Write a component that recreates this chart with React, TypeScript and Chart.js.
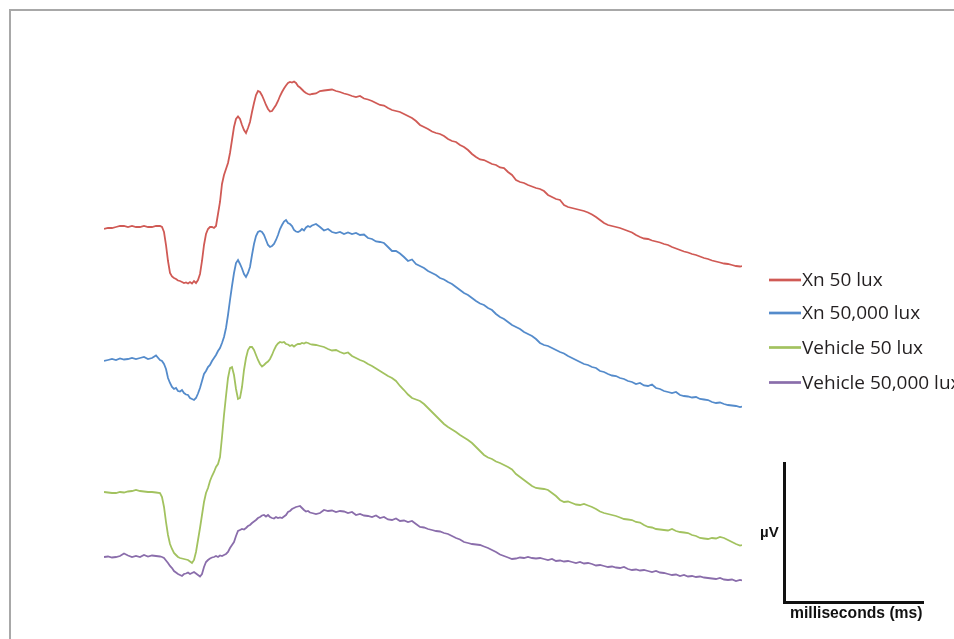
import React, { useEffect, useRef } from "react";
import { Chart, registerables } from "chart.js";

Chart.register(...registerables);

// Sampling grid in milliseconds (denser around the a-/b-wave)
const timeMs: number[] = [];
for (let i = 0; i <= 14; i++) timeMs.push(i);
for (let k = 29; k <= 104; k++) timeMs.push(k / 2);
for (let i = 53; i <= 159; i++) timeMs.push(i);
timeMs.push(159.5);

const seriesLabels = ["Xn 50 lux", "Xn 50,000 lux", "Vehicle 50 lux", "Vehicle 50,000 lux"];
const seriesColors = ["#D05A55", "#548BCB", "#A2C25F", "#8A6DAB"];

// Traces (µV, vertically offset for display)
const xn50: number[] = [
  371, 372, 372, 373, 374, 374, 373, 374, 373, 373, 374, 373, 373, 374, 374,
  373, 368, 355, 339, 327, 323.5, 322, 321, 319.5, 319, 318, 317, 317.5, 316.5, 318, 316.5, 319, 317, 320, 326,
  339, 355, 366, 371, 373, 373, 372, 374, 386, 398, 416, 425, 431, 437, 447, 460, 473, 481, 483.5, 481,
  475, 470, 467, 472, 478, 488, 497, 505, 509, 508, 504.5, 500, 495, 491, 488.5, 489, 492, 495, 499, 504,
  508, 511.5, 514.5, 517, 518, 517.5, 518.5, 517, 514, 512.5, 510.5, 508.5, 507, 506, 505.5, 506,
  506.5, 509, 509.5, 510, 510.5, 509, 508, 506.5, 505.5, 504, 503, 504, 501.5, 500.5, 499, 497, 495, 494.5,
  492, 490, 489, 488, 486, 484, 482, 479, 475, 473, 471, 468.5, 467, 466, 464, 461, 459, 458, 455, 453,
  450, 446, 443, 440.5, 440, 438, 436, 435, 432.5, 432, 428, 425, 420, 418, 417, 415, 413.5, 412, 411, 409,
  405, 403, 401, 400, 395, 393, 392, 391, 390, 389, 387.5, 385.5, 383, 380, 377, 375, 374, 373, 372, 370.5,
  369, 367.5, 365, 363, 361.5, 361, 359.5, 358.5, 357.5, 356, 355, 353, 351.5, 350, 348.5, 347.5, 346, 345,
  343.5, 342, 341, 339.5, 338.5, 337.5, 336.5, 336, 335, 334, 333.5, 334,
];

const xn50000: number[] = [
  239, 240, 241, 240, 241.5, 240.5, 241, 242, 241, 242, 243, 241, 242, 244.5, 240,
  239, 236, 231, 222, 217, 213, 211, 212, 209, 208.5, 210, 207, 205.5, 205, 202, 201, 200, 202, 206.5, 212,
  219, 226, 229, 233, 235, 239, 242, 245, 249, 252, 257, 263, 272, 285, 300, 314, 327, 337, 340, 336,
  331.5, 326, 323, 327, 333, 345, 356, 364, 368, 369, 368, 365, 360, 355, 353, 354, 356, 360, 365, 371,
  375, 378.5, 380, 377, 376, 374, 370, 368.5, 368, 369, 371, 369.5, 372.5, 374, 373, 374.5,
  376, 373, 369.5, 371, 368, 367, 368, 366, 367.5, 366, 367, 365, 365.5, 362, 361, 358.5, 358, 357, 353, 349,
  349, 346.5, 343, 339, 340.5, 336, 334, 332, 329, 327, 325, 322, 320.5, 318, 316, 313, 310, 307, 305, 302,
  299, 296.5, 295, 292, 290, 286, 283, 281, 278, 275, 273, 271, 268, 266, 264, 261, 257, 255, 254, 252,
  250, 248, 246.5, 244, 242, 240, 238, 236, 235, 233, 232, 229, 228, 226, 224.5, 224, 222, 221, 219, 218,
  216, 217, 214.5, 214, 215.5, 212, 211, 209, 208, 207, 208, 205, 204, 203.5, 202.5, 203, 201, 200.5, 200,
  198, 197, 197.5, 196, 195, 194.5, 194, 193, 193.5,
];

const vehicle50: number[] = [
  108, 107.5, 107, 107, 108, 107.5, 108.5, 109, 110, 109, 108.5, 108, 108, 107.5, 107,
  103, 93, 78, 65, 56, 51, 47, 45, 43, 42, 41.5, 41, 40.5, 40, 38.5, 37, 40, 48, 60, 72,
  85, 98, 107, 112, 119, 124, 128, 133, 136, 143, 163, 185, 204, 222, 232, 233, 225, 211, 201, 202,
  213, 230, 242, 250, 253, 253, 250, 245, 240, 236, 233.5, 235, 237, 238.5, 241, 245, 250, 254, 256.5, 258,
  257.5, 258, 256, 255.5, 254, 255, 253.5, 255, 256, 256, 257, 256.5, 257.5, 257, 256, 255.5,
  255, 254, 253, 251, 249.5, 250, 248, 246.5, 247.5, 244, 242, 240, 238.5, 236, 234, 231.5, 229, 226.5, 224, 222,
  219, 214, 210, 205.5, 202, 200.5, 199, 196, 192, 188, 184, 180, 176, 173, 170.5, 168, 165, 162.5, 160, 157,
  153, 149, 145, 142.5, 141, 138.5, 137, 135, 133, 130.5, 126, 123, 120, 117, 114, 112, 111.5, 111, 110, 107,
  104, 100, 98, 98.5, 97, 95.5, 95, 96, 94.5, 93, 91, 88.5, 87, 86, 85, 84, 82.5, 81, 80.5, 80,
  78, 77.5, 75, 73, 72.5, 71, 70.5, 70, 69.5, 71, 69, 68, 67.5, 67, 65, 64, 62, 61.5, 61, 62,
  61.5, 63, 62, 60, 58, 56, 54.5, 55,
];

const vehicle50000: number[] = [
  43, 43.5, 42.5, 43, 44, 46.5, 44.5, 43, 44, 43, 45, 43.5, 44.5, 44, 43.5,
  43, 42, 39.5, 37, 34, 32, 29, 27.5, 26, 25, 24, 26, 26.5, 27.5, 26, 27, 28, 26.5, 25, 23.5,
  26, 33, 38, 40, 41.5, 42.5, 43, 44, 43, 44.5, 44, 45, 46, 48, 52, 55, 58, 64, 69, 70,
  71, 70.5, 72, 74, 75, 77, 78.5, 80, 82, 83, 84.5, 85, 83.5, 85, 83, 82, 81.5, 83, 82, 82.5,
  82, 83.5, 85, 88, 89, 91, 92, 93, 93.5, 94, 92, 90, 88.5, 89, 87.5, 87,
  86, 87, 90, 89, 89.5, 88, 89, 88.5, 87, 88, 85, 86, 84.5, 84, 83, 84.5, 82, 83, 80.5, 80,
  81.5, 79, 79.5, 78, 79, 76, 73, 72.5, 71, 70, 69, 68.5, 67, 66, 64, 62, 60.5, 58, 57, 56,
  55.5, 55, 53.5, 52, 50, 48, 45.5, 44, 42.5, 41, 41.5, 42.5, 42, 43, 42, 41.5, 42, 41, 40, 41,
  39, 39.5, 38.5, 39, 38, 37, 38, 36.5, 37, 36, 34.5, 35, 34, 33, 33.5, 32.5, 32, 33, 31, 30,
  30.5, 29.5, 30, 29, 28, 29, 27.5, 27, 26, 25, 25.5, 24, 25, 23.5, 24, 23, 23.5, 22.5, 22, 21.5,
  21, 22, 20.5, 20, 20.5, 19, 20, 19.5,
];

const seriesValues = [xn50, xn50000, vehicle50, vehicle50000];

const scaleBarY = "µV";
const scaleBarX = "milliseconds (ms)";

const overlayPlugin = {
  id: "ergOverlay",
  afterDraw(chart: any) {
    const ctx = chart.ctx as CanvasRenderingContext2D;
    ctx.save();
    // legend
    const rows = [280, 313, 347.5, 382.5];
    chart.data.datasets.forEach((ds: any, i: number) => {
      const y = rows[i];
      ctx.strokeStyle = ds.borderColor;
      ctx.lineWidth = 2.7;
      ctx.beginPath();
      ctx.moveTo(769, y);
      ctx.lineTo(801, y);
      ctx.stroke();
      ctx.fillStyle = "#231f20";
      ctx.font = '19px "Open Sans"';
      ctx.textBaseline = "middle";
      ctx.textAlign = "left";
      ctx.fillText(ds.label, 802, y + 1);
    });
    // scale bar
    ctx.strokeStyle = "#111111";
    ctx.lineWidth = 3;
    ctx.beginPath();
    ctx.moveTo(784.5, 462);
    ctx.lineTo(784.5, 602.5);
    ctx.lineTo(924, 602.5);
    ctx.stroke();
    ctx.fillStyle = "#111111";
    ctx.font = 'bold 15px "Liberation Sans"';
    ctx.textBaseline = "middle";
    ctx.fillText(scaleBarY, 760, 533);
    ctx.font = 'bold 15.7px "Liberation Sans"';
    ctx.fillText(scaleBarX, 790, 614);
    ctx.restore();
  },
};

export default function App() {
  const canvasRef = useRef<HTMLCanvasElement | null>(null);

  useEffect(() => {
    if (!canvasRef.current) return;
    const chart = new Chart(canvasRef.current, {
      type: "line",
      data: {
        datasets: seriesValues.map((vals, i) => ({
          label: seriesLabels[i],
          data: vals.map((v, j) => ({ x: timeMs[j], y: v })),
          borderColor: seriesColors[i],
          backgroundColor: seriesColors[i],
          borderWidth: 1.8,
          pointRadius: 0,
          tension: 0,
          fill: false,
        })),
      },
      options: {
        animation: false,
        responsive: false,
        devicePixelRatio: 1,
        layout: { padding: { left: 104, right: 212, top: 60, bottom: 39 } },
        scales: {
          x: { type: "linear", min: 0, max: 159.5, display: false },
          y: { type: "linear", min: 0, max: 540, display: false },
        },
        plugins: {
          legend: { display: false },
          tooltip: { enabled: false },
        },
      },
      plugins: [overlayPlugin],
    });
    return () => chart.destroy();
  }, []);

  return (
    <div style={{ position: "fixed", left: 0, top: 0, width: 954, height: 639, overflow: "hidden", background: "#ffffff" }}>
      <div
        style={{
          position: "absolute",
          left: 9,
          top: 9,
          width: 945,
          height: 630,
          borderLeft: "2px solid #a8a8a8",
          borderTop: "2px solid #a8a8a8",
          boxSizing: "border-box",
        }}
      />
      <canvas ref={canvasRef} width={954} height={639} style={{ position: "absolute", left: 0, top: 0 }} />
    </div>
  );
}
